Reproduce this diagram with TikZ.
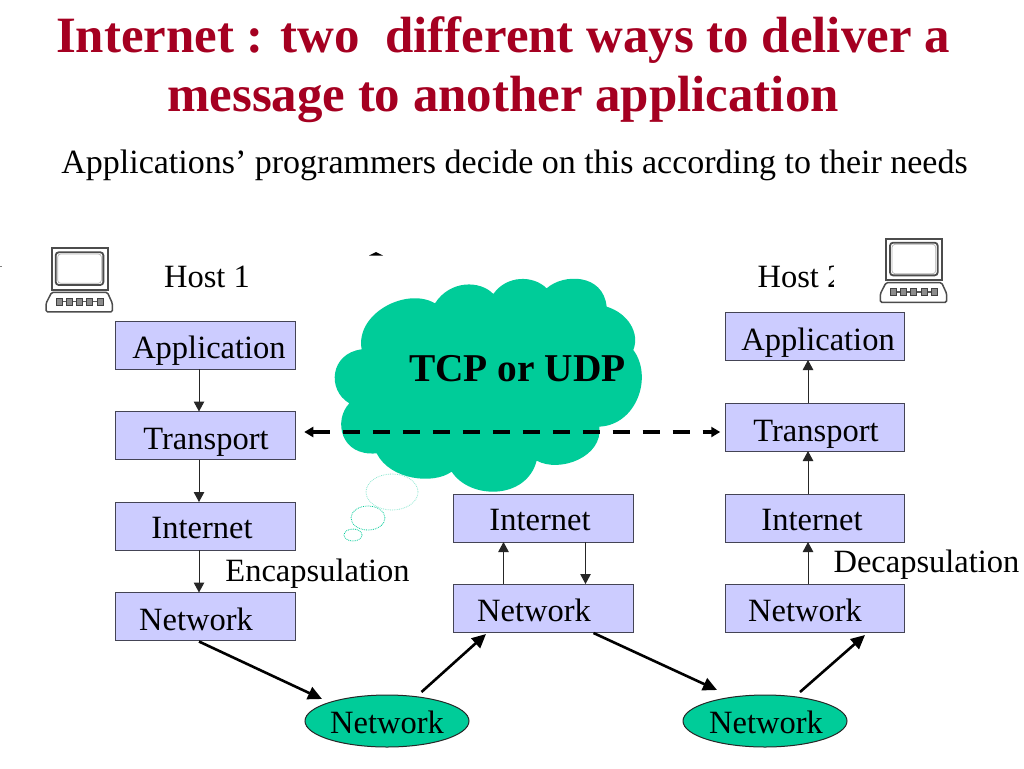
\documentclass[tikz,border=0pt]{standalone}
\usepackage{fontspec}
\setmainfont{Liberation Serif}
\usetikzlibrary{shapes.geometric,arrows.meta}
\definecolor{titlered}{HTML}{A50021}
\definecolor{cloudgreen}{HTML}{00CC99}
\definecolor{boxblue}{HTML}{CCCCFF}
\definecolor{edgegray}{HTML}{444455}
\newcommand{\fs}[1]{\fontsize{#1}{#1}\selectfont}
\tikzset{
  x=1pt,y=-1pt,
  box/.style={draw=edgegray,line width=1pt,fill=boxblue,minimum width=179.5pt,minimum height=48pt,inner sep=0pt,outer sep=0pt},
  boxtext/.style={inner sep=0pt,font=\fs{32.5}},
  free/.style={inner sep=0pt,font=\fs{32.5}},
  thin arrow/.style={draw=black!85,line width=1pt,-{Triangle[length=10pt,width=10.5pt]}},
  net arrow/.style={draw=black,line width=2.6pt,-{Triangle[length=14pt,width=13pt]}},
  dash arrow/.style={draw=black,line width=3.5pt,dash pattern=on 17pt off 13pt,{Triangle[length=9pt,width=10pt]}-{Triangle[length=9pt,width=10pt]}},
  netnode/.style={ellipse,draw=black!85,line width=1pt,fill=cloudgreen,minimum width=164pt,minimum height=52pt,inner sep=0pt,outer sep=0pt},
  puff/.style={ellipse,draw=cloudgreen,densely dotted,line width=0.8pt,inner sep=0pt},
  computer/.pic={
    \begin{scope}[x=0.3333pt,y=-0.3333pt,shift={(-155,-55)}]
      \draw[line width=1.8pt,draw=black!70,fill=white] (155,55) rectangle (323,180);
      \draw[line width=1.8pt,draw=black!70,rounded corners=3pt] (167,67) rectangle (310,165);
      \draw[line width=0.7pt,draw=black!30,rounded corners=3pt] (173,72) rectangle (304,160);
      \draw[line width=1.5pt,draw=black!70,fill=white,rounded corners=1.5pt] (155,187) -- (322,187) -- (337,220) -- (337,246) -- (138,246) -- (138,220) -- cycle;
      \draw[line width=1.2pt,black!65] (168,215) -- (310,215);
      \foreach \kx in {168,198,228,260,292}{\draw[line width=0.9pt,draw=black!75,fill=black!45] (\kx,205) rectangle ++(18,20);}
    \end{scope}
  }
}
\begin{document}
\begin{tikzpicture}
\useasboundingbox (0,0) rectangle (1024,768);
\fill[white] (0,0) rectangle (1024,768);

% Titles
\node[inner sep=0pt,text=titlered,font=\fs{50.9}\bfseries] (t1) at (503,40) {Internet : two\ \ different ways to deliver a};
\node[inner sep=0pt,text=titlered,font=\fs{50.9}\bfseries] (t2) at (503,99) {message to another application};
\node[inner sep=0pt,font=\fs{34}] (t3) at (514.5,165) {Applications’ programmers decide on this according to their needs};

% Thought bubble
\node[puff,draw=cloudgreen!45,minimum width=52pt,minimum height=36pt] (p1) at (392,492) {};
\node[puff,minimum width=34pt,minimum height=24pt] (p2) at (368,518) {};
\node[puff,minimum width=18pt,minimum height=12pt] (p3) at (353,535) {};

% Cloud
\begin{scope}[shift={(320,230)},x=0.3333pt,y=-0.3333pt]
\fill[cloudgreen] (125,358)
 .. controls (105,250) and (260,170) .. (345,220)
 .. controls (390,150) and (480,150) .. (520,192)
 .. controls (560,135) and (640,135) .. (680,175)
 .. controls (730,130) and (850,130) .. (860,230)
 .. controls (925,250) and (960,310) .. (940,360)
 .. controls (1000,440) and (950,585) .. (838,590)
 .. controls (850,680) and (720,730) .. (650,692)
 .. controls (620,810) and (450,810) .. (395,725)
 .. controls (340,765) and (210,750) .. (170,670)
 .. controls (60,680) and (40,570) .. (88,520)
 .. controls (20,480) and (30,370) .. (125,358) -- cycle;
\end{scope}
\node[inner sep=0pt,font=\fs{39.4}\bfseries] (tcp) at (517.5,369) {TCP or UDP};

% Computers
\pic at (51.7,248.3) {computer};
\pic at (886,238.7) {computer};

% Host labels
\node[free] (h1) at (207,277) {Host 1};
\begin{scope}
\clip (740,250) rectangle (833.5,300);
\node[free] (h2) at (800.5,277) {Host 2};
\end{scope}

% Remnant marks
\fill[black] (369,255.5) -- (376,252) -- (383,255.5) -- cycle;
\fill[black!50] (0,265.5) rectangle (1.5,267);

% Left stack
\node[box] (a1) at (205.5,345) {};
\node[box] (a2) at (205.5,435.5) {};
\node[box] (a3) at (205.5,526) {};
\node[box] (a4) at (205.5,616.5) {};
\node[boxtext] (a1t) at (209,351) {Application};
\node[boxtext] (a2t) at (206,442) {Transport};
\node[boxtext] (a3t) at (202,528.5) {Internet};
\node[boxtext] (a4t) at (196,619) {Network};

% Middle stack
\node[box] (b3) at (543.5,518) {};
\node[box] (b4) at (543.5,608) {};
\node[boxtext] (b3t) at (540,520.5) {Internet};
\node[boxtext] (b4t) at (534,610) {Network};

% Right stack
\node[box] (c1) at (815,336) {};
\node[box] (c2) at (815,427) {};
\node[box] (c3) at (815,518) {};
\node[box] (c4) at (815,608) {};
\node[boxtext] (c1t) at (818,343) {Application};
\node[boxtext] (c2t) at (816,434) {Transport};
\node[boxtext] (c3t) at (812,520.5) {Internet};
\node[boxtext] (c4t) at (805,610) {Network};

% Network ellipses
\node[netnode] (n1) at (387,721) {};
\node[netnode] (n2) at (765,721) {};
\node[inner sep=0pt,font=\fs{32.5}] (n1t) at (387,722) {Network};
\node[inner sep=0pt,font=\fs{32.5}] (n2t) at (766,722) {Network};

% Free labels
\node[free] (enc) at (317.5,573.5) {Encapsulation};
\node[free] (dec) at (926.5,564.5) {Decapsulation};

% Thin arrows
\draw[thin arrow] ([xshift=-6.5pt]a1.south) -- ([xshift=-6.5pt]a2.north);
\draw[thin arrow] ([xshift=-6.5pt]a2.south) -- ([xshift=-6.5pt]a3.north);
\draw[thin arrow] ([xshift=-6.5pt]a3.south) -- ([xshift=-6.5pt]a4.north);
\draw[thin arrow] ([xshift=-40pt]b4.north) -- ([xshift=-40pt]b3.south);
\draw[thin arrow] ([xshift=42pt]b3.south) -- ([xshift=42pt]b4.north);
\draw[thin arrow] ([xshift=-7pt]c2.north) -- ([xshift=-7pt]c1.south);
\draw[thin arrow] ([xshift=-7pt]c3.north) -- ([xshift=-7pt]c2.south);
\draw[thin arrow] ([xshift=-7pt]c4.north) -- ([xshift=-7pt]c3.south);

% Dashed arrow
\draw[dash arrow] ([xshift=9pt,yshift=3.5pt]a2.east) -- ([xshift=-5pt,yshift=-5pt]c2.west);

% Network arrows
\draw[net arrow] ([xshift=-6.5pt,yshift=-1pt]a4.south) -- ([xshift=-65pt,yshift=22pt]n1.center);
\draw[net arrow] ([xshift=34.5pt,yshift=29pt]n1.center) -- ([xshift=-57.5pt,yshift=-2pt]b4.south);
\draw[net arrow] ([xshift=50pt,yshift=-1pt]b4.south) -- ([xshift=-48pt,yshift=31pt]n2.center);
\draw[net arrow] ([xshift=35pt,yshift=29pt]n2.center) -- ([xshift=50pt,yshift=-3pt]c4.south);
\end{tikzpicture}
\end{document}
